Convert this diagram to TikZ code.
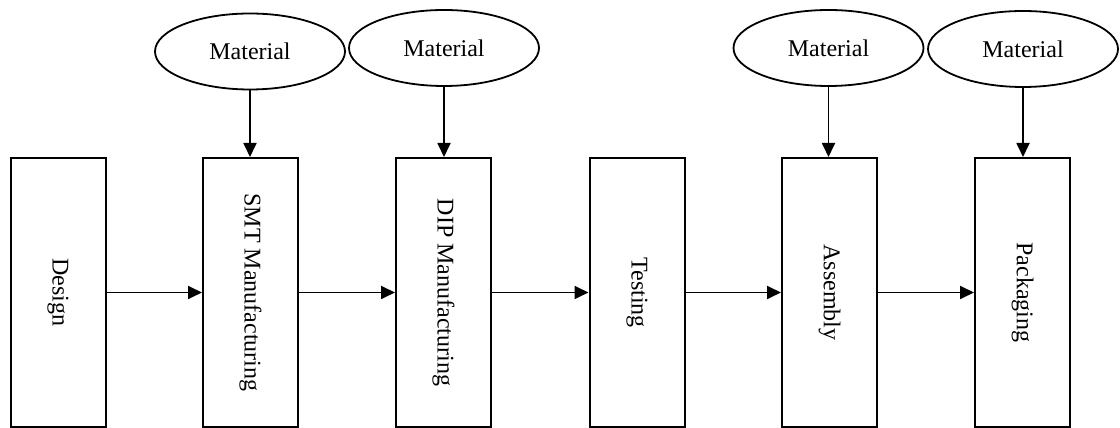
\documentclass[tikz,border=0pt]{standalone}
\usepackage{fontspec}
\setmainfont{Liberation Serif}
\usetikzlibrary{arrows.meta,shapes.geometric}
\begin{document}
\begin{tikzpicture}[x=1pt,y=1pt,
  stage/.style={draw, line width=2pt, minimum width=95pt, minimum height=269pt, inner sep=0pt, font=\fontsize{24}{28}\selectfont},
  matl/.style={draw, ellipse, line width=1.8pt, minimum width=190pt, minimum height=76pt, inner sep=0pt, font=\fontsize{24}{28}\selectfont},
  flow/.style={line width=1.8pt, -{Triangle[length=14pt,width=13pt]}}]
\useasboundingbox (0,0) rectangle (1120,428);
\node[stage] (design) at (58,135.5) {\rotatebox{-90}{Design}};
\node[stage] (smt) at (250.5,135.5) {\rotatebox{-90}{SMT Manufacturing}};
\node[stage] (dip) at (443.5,135.5) {\rotatebox{-90}{DIP Manufacturing}};
\node[stage] (test) at (637,135.5) {\rotatebox{-90}{Testing}};
\node[stage] (asm) at (829.5,135.5) {\rotatebox{-90}{Assembly}};
\node[stage] (pack) at (1022.5,135.5) {\rotatebox{-90}{Packaging}};
\node[matl] (m1) at (250,376.5) {Material};
\node[matl] (m2) at (444,380) {Material};
\node[matl] (m3) at (828.5,380) {Material};
\node[matl] (m4) at (1023,379) {Material};
\draw[flow] (design) -- (smt);
\draw[flow] (smt) -- (dip);
\draw[flow] (dip) -- (test);
\draw[flow] (test) -- (asm);
\draw[flow] (asm) -- (pack);
\draw[flow] (m1.south) -- (m1.south |- smt.north);
\draw[flow] (m2.south) -- (m2.south |- dip.north);
\draw[flow] (m3.south) -- (m3.south |- asm.north);
\draw[flow] (m4.south) -- (m4.south |- pack.north);
\end{tikzpicture}
\end{document}
